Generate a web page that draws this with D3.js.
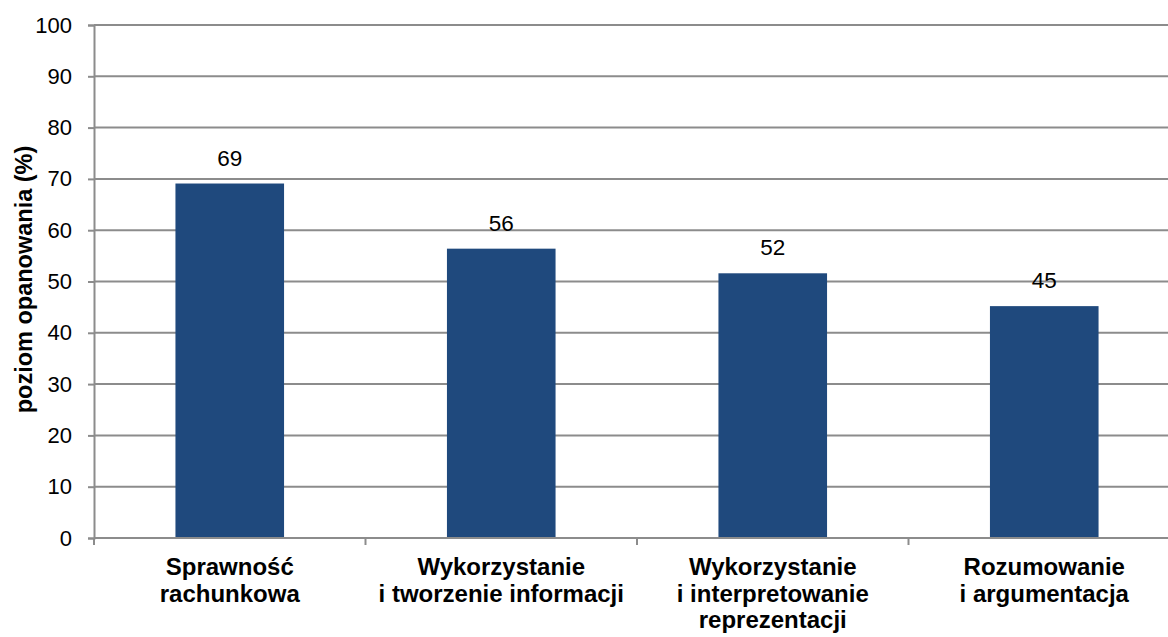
<!DOCTYPE html>
<html>
<head>
<meta charset="utf-8">
<script src="https://cdn.jsdelivr.net/npm/d3@7"></script>
<style>
  html, body { margin: 0; padding: 0; background: #fff; overflow: hidden; }
  svg { display: block; font-family: "Liberation Sans", Arial, sans-serif; }
</style>
</head>
<body>
<div id="chart"></div>
<script>
// Dane
const categories = [
    ['Sprawność', 'rachunkowa'],
    ['Wykorzystanie', 'i tworzenie informacji'],
    ['Wykorzystanie', 'i interpretowanie', 'reprezentacji'],
    ['Rozumowanie', 'i argumentacja']
];
const values = [69.1, 56.4, 51.6, 45.2];
const valueLabels = ['69', '56', '52', '45'];
const yTicks = [0, 10, 20, 30, 40, 50, 60, 70, 80, 90, 100];
const yTitle = 'poziom opanowania (%)';

const width = 1168;
const height = 637;
const margin = { top: 25, left: 94, bottom: 99 };
const plotRight = 1180; // prawa krawędź wykresu wychodzi poza kadr
const innerHeight = height - margin.top - margin.bottom;

const gridColor = '#8c8c8c';
const barColor = '#1f497d';

const svg = d3.select('#chart').append('svg')
    .attr('width', width)
    .attr('height', height);

const ids = categories.map((c, i) => i);

const xScale = d3.scaleBand()
    .domain(ids)
    .range([margin.left, plotRight])
    .paddingInner(0.6)
    .paddingOuter(0.3);

const yScale = d3.scaleLinear()
    .domain([0, 100])
    .range([margin.top + innerHeight, margin.top]);

// Siatka
svg.append('g')
    .selectAll('line')
    .data(yTicks.filter(t => t > 0))
    .join('line')
    .attr('x1', margin.left)
    .attr('x2', plotRight)
    .attr('y1', d => yScale(d))
    .attr('y2', d => yScale(d))
    .attr('stroke', gridColor)
    .attr('stroke-width', 2);

// Oś Y
const yAxis = svg.append('g')
    .attr('transform', `translate(${margin.left},0)`)
    .call(d3.axisLeft(yScale).tickValues(yTicks).tickSize(6).tickPadding(16));
yAxis.select('.domain').attr('stroke', gridColor).attr('stroke-width', 2);
yAxis.selectAll('.tick line').attr('stroke', gridColor).attr('stroke-width', 2);
yAxis.selectAll('.tick text')
    .attr('font-size', 22)
    .attr('fill', '#000')
    .attr('font-family', '"Liberation Sans", Arial, sans-serif');

// Słupki
svg.append('g')
    .selectAll('rect')
    .data(values)
    .join('rect')
    .attr('x', (d, i) => xScale(i))
    .attr('y', d => yScale(d))
    .attr('width', xScale.bandwidth())
    .attr('height', d => yScale(0) - yScale(d))
    .attr('fill', barColor);

// Oś X
const x0 = yScale(0);
svg.append('line')
    .attr('x1', margin.left)
    .attr('x2', plotRight)
    .attr('y1', x0)
    .attr('y2', x0)
    .attr('stroke', gridColor)
    .attr('stroke-width', 2);

svg.append('g')
    .selectAll('line')
    .data(ids)
    .join('line')
    .attr('x1', i => margin.left + i * xScale.step())
    .attr('x2', i => margin.left + i * xScale.step())
    .attr('y1', x0)
    .attr('y2', x0 + 7)
    .attr('stroke', gridColor)
    .attr('stroke-width', 2);

// Etykiety kategorii
const catLabels = svg.append('g')
    .selectAll('text')
    .data(categories)
    .join('text')
    .attr('text-anchor', 'middle')
    .attr('font-size', 24)
    .attr('font-weight', 'bold')
    .attr('fill', '#000')
    .attr('transform', (d, i) => `translate(${xScale(i) + xScale.bandwidth() / 2},${x0 + 37})`);

catLabels.selectAll('tspan')
    .data(d => d)
    .join('tspan')
    .attr('x', 0)
    .attr('dy', (d, i) => i === 0 ? 0 : 26.6)
    .text(d => d);

// Etykiety wartości
svg.append('g')
    .selectAll('text')
    .data(values)
    .join('text')
    .attr('x', (d, i) => xScale(i) + xScale.bandwidth() / 2)
    .attr('y', d => yScale(d) - 18)
    .attr('text-anchor', 'middle')
    .attr('font-size', 22.5)
    .attr('fill', '#000')
    .text((d, i) => valueLabels[i]);

// Tytuł osi Y
svg.append('text')
    .attr('transform', `translate(32,${yScale(50) - 2}) rotate(-90)`)
    .attr('text-anchor', 'middle')
    .attr('font-size', 23.5)
    .attr('font-weight', 'bold')
    .attr('fill', '#000')
    .text(yTitle);
</script>
</body>
</html>
